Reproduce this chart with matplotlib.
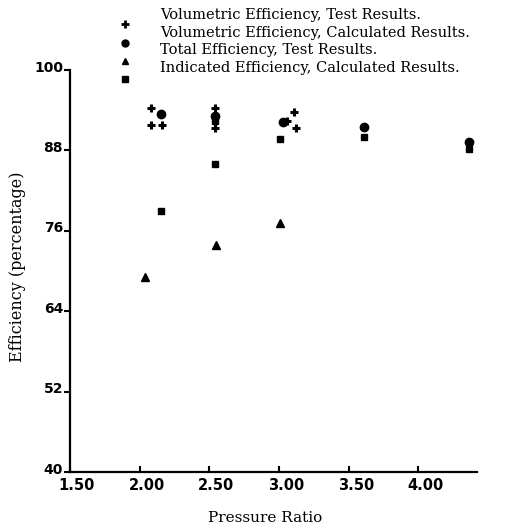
import matplotlib
matplotlib.use("Agg")
import matplotlib.pyplot as plt
from matplotlib.transforms import ScaledTranslation

# values
vol_test_x = [2.08, 2.08, 2.16, 2.54, 2.54, 3.11, 3.06, 3.12]
vol_test_y = [94.4, 91.8, 91.8, 94.3, 91.4, 93.7, 92.4, 91.3]

vol_calc_x = [2.15, 2.54, 3.03, 3.61, 4.36]
vol_calc_y = [93.5, 93.1, 92.2, 91.5, 89.2]

total_test_x = [2.04, 2.55, 3.01]
total_test_y = [69.1, 73.9, 77.2]

ind_calc_x = [2.15, 2.54, 2.54, 3.01, 3.61, 4.36]
ind_calc_y = [79.0, 92.4, 86.0, 89.7, 90.0, 88.2]

xticks = [1.5, 2.0, 2.5, 3.0, 3.5, 4.0]
xtick_labels = ["1.50", "2.00", "2.50", "3.00", "3.50", "4.00"]
yticks = [40, 52, 64, 76, 88, 100]
ytick_labels = ["40", "52", "64", "76", "88", "100"]

legend_labels = [
    "Volumetric Efficiency, Test Results.",
    "Volumetric Efficiency, Calculated Results.",
    "Total Efficiency, Test Results.",
    "Indicated Efficiency, Calculated Results.",
]

serif = "DejaVu Serif"

fig = plt.figure(figsize=(5.31, 5.30), dpi=100)
ax = fig.add_axes([70 / 531, 1 - 472 / 530, 407 / 531, 402 / 530])

ax.plot(vol_test_x, vol_test_y, ls="none", marker="+", ms=6, mew=2.2, color="black")
ax.plot(vol_calc_x, vol_calc_y, ls="none", marker="o", ms=6, color="black")
ax.plot(total_test_x, total_test_y, ls="none", marker="^", ms=5.5, color="black")
ax.plot(ind_calc_x, ind_calc_y, ls="none", marker="s", ms=5, color="black")

ax.set_xlim(1.5, 4.42)
ax.set_ylim(40, 100)

for side in ["top", "right"]:
    ax.spines[side].set_visible(False)
for side in ["left", "bottom"]:
    ax.spines[side].set_linewidth(1.6)

ax.set_xticks(xticks)
ax.set_xticklabels(xtick_labels, fontsize=10.5, fontweight="bold", family="DejaVu Sans")
ax.set_yticks(yticks)
ax.set_yticklabels(ytick_labels, fontsize=10, fontweight="bold", family="DejaVu Sans")
ax.tick_params(axis="x", direction="in", length=4, width=1.5, pad=4)
ax.tick_params(axis="y", direction="out", length=4, width=1.5, pad=1)

# scanned labels sit a little right of x ticks and above y ticks
for lbl in ax.get_xticklabels():
    lbl.set_transform(lbl.get_transform() + ScaledTranslation(0.07, 0, fig.dpi_scale_trans))
for lbl in ax.get_yticklabels():
    lbl.set_transform(lbl.get_transform() + ScaledTranslation(0, 0.04, fig.dpi_scale_trans))

fig.text(265 / 531, 1 - 518 / 530, "Pressure Ratio", family=serif, fontsize=11,
         ha="center", va="center")
fig.text(18 / 531, 1 - 267 / 530, "Efficiency (percentage)", family=serif, fontsize=11.5,
         ha="center", va="center", rotation=90)

# hand-placed key, as in the original figure
markers = [("+", 5.5, 2), ("o", 5, 1), ("^", 5, 1), ("s", 5, 1)]
marker_y = [24, 43, 61, 79]
text_y = [15, 33, 50, 68]
for (m, ms, mew), my, ty, label in zip(markers, marker_y, text_y, legend_labels):
    fig.add_artist(plt.Line2D([125 / 531], [1 - my / 530], ls="none", marker=m, ms=ms,
                              mew=mew, color="black", transform=fig.transFigure))
    fig.text(160 / 531, 1 - ty / 530, label, family=serif, fontsize=10.5,
             ha="left", va="center")

fig.savefig("out.png", dpi=100)
